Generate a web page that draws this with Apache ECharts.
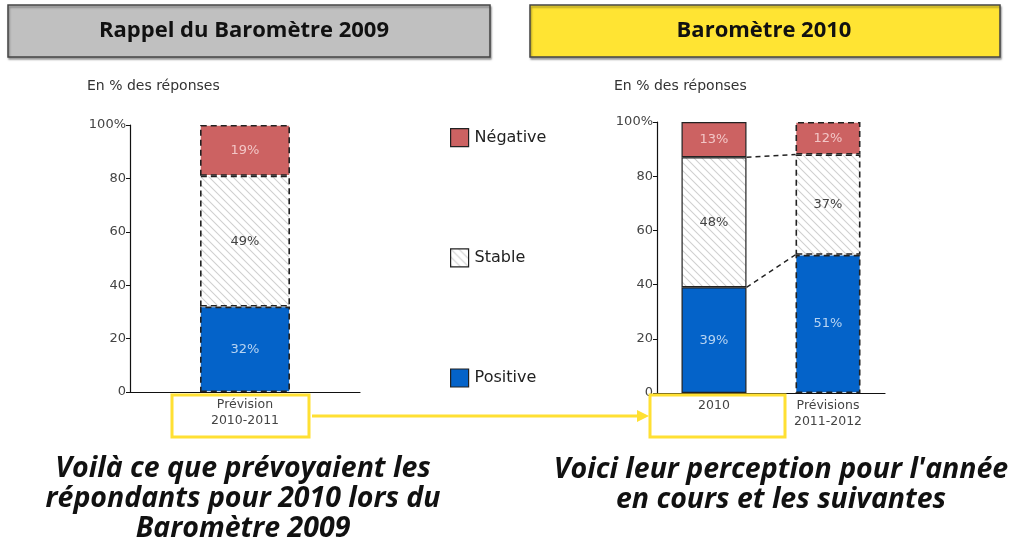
<!DOCTYPE html>
<html>
<head>
<meta charset="utf-8">
<script src="https://cdn.jsdelivr.net/npm/echarts@6/dist/echarts.min.js"></script>
<style>
html, body { margin: 0; padding: 0; background: #fff; }
#chart { width: 1023px; height: 545px; }
</style>
</head>
<body>
<div id="chart"></div>
<script>
var names = ['Négative', 'Stable', 'Positive'];
var cats2009 = ['Prévision\n2010-2011'];
var pos2009 = [32];
var stab2009 = [49];
var neg2009 = [19];
var cats2010 = ['2010', 'Prévisions\n2011-2012'];
var pos2010 = [39, 51];
var stab2010 = [48, 37];
var neg2010 = [13, 12];
var yTicks = [0, 20, 40, 60, 80, 100];

var red = '#CC6262';
var blue = '#0463C9';
var font = 'DejaVu Sans';
var narrow = '"Open Sans", sans-serif';

// hachures pour "Stable"
var cv = document.createElement('canvas');
cv.width = 8; cv.height = 8;
var cx = cv.getContext('2d');
cx.fillStyle = '#fff';
cx.fillRect(0, 0, 8, 8);
cx.strokeStyle = '#cfcfcf';
cx.lineWidth = 1.1;
[-8, 0, 8].forEach(function (o) {
    cx.beginPath();
    cx.moveTo(o - 1, -1);
    cx.lineTo(o + 9, 9);
    cx.stroke();
});
var hatch = {image: cv, repeat: 'repeat'};

var dashed = {borderColor: '#222', borderWidth: 1.6, borderType: [6, 4]};
var solid = {borderColor: '#222', borderWidth: 1.2, borderType: 'solid'};

function styled(vals, types) {
    return vals.map(function (v, i) {
        return {value: v, itemStyle: types[i] == 'solid' ? solid : dashed};
    });
}

function barSeries(name, vals, types, color, lblColor, idx, stack, bw) {
    return {
        name: name,
        type: 'bar',
        stack: stack,
        xAxisIndex: idx,
        yAxisIndex: idx,
        barWidth: bw,
        data: styled(vals, types),
        itemStyle: {color: color},
        label: {
            show: true,
            position: 'inside',
            formatter: '{c}%',
            color: lblColor,
            fontFamily: font,
            fontSize: 13
        }
    };
}

// lignes pointillées entre les deux barres 2010
var connData = [
    [0, pos2010[0] + stab2010[0], 1, pos2010[1] + stab2010[1]],
    [0, pos2010[0], 1, pos2010[1]]
];

function yAxis(idx) {
    return {
        type: 'value',
        gridIndex: idx,
        min: 0,
        max: 100,
        interval: 20,
        axisLine: {show: true, lineStyle: {color: '#111', width: 1.2}},
        axisTick: {show: true, length: 4, lineStyle: {color: '#111'}},
        splitLine: {show: false},
        axisLabel: {
            fontFamily: font,
            fontSize: 13,
            color: '#444',
            margin: 4,
            formatter: function (v) { return v == 100 ? '100%' : v; }
        }
    };
}

function xAxis(idx, cats) {
    return {
        type: 'category',
        gridIndex: idx,
        data: cats,
        axisLine: {show: true, lineStyle: {color: '#111', width: 1.2}},
        axisTick: {show: false},
        axisLabel: {fontFamily: font, fontSize: 12.5, color: '#444', lineHeight: 16, margin: 5}
    };
}

var chart = echarts.init(document.getElementById('chart'));
chart.setOption({
    animation: false,
    grid: [
        {left: 130, top: 125, width: 230, height: 267},
        {left: 657, top: 122, width: 228, height: 271}
    ],
    xAxis: [xAxis(0, cats2009), xAxis(1, cats2010)],
    yAxis: [yAxis(0), yAxis(1)],
    legend: {
        data: names,
        orient: 'vertical',
        left: 450,
        top: 128,
        padding: 0,
        itemWidth: 18,
        itemHeight: 18,
        itemGap: 101,
        icon: 'rect',
        itemStyle: {borderColor: '#222', borderWidth: 1.2, borderType: 'solid'},
        textStyle: {fontFamily: font, fontSize: 16, color: '#222', padding: [0, 0, 0, 1]}
    },
    series: [
        barSeries('Positive', pos2009, ['dashed'], blue, '#b8d4f2', 0, 'a', 90),
        barSeries('Stable', stab2009, ['dashed'], hatch, '#444', 0, 'a', 90),
        barSeries('Négative', neg2009, ['dashed'], red, '#f2c6c6', 0, 'a', 90),
        barSeries('Positive', pos2010, ['solid', 'dashed'], blue, '#b8d4f2', 1, 'b', 65),
        barSeries('Stable', stab2010, ['solid', 'dashed'], hatch, '#444', 1, 'b', 65),
        barSeries('Négative', neg2010, ['solid', 'dashed'], red, '#f2c6c6', 1, 'b', 65),
        {
            name: 'liens',
            type: 'custom',
            xAxisIndex: 1,
            yAxisIndex: 1,
            data: connData,
            encode: {x: [0, 2], y: [1, 3]},
            z: 5,
            renderItem: function (params, api) {
                var a = api.coord([api.value(0), api.value(1)]);
                var b = api.coord([api.value(2), api.value(3)]);
                return {
                    type: 'line',
                    shape: {x1: a[0] + 32.5, y1: a[1], x2: b[0] - 32.5, y2: b[1]},
                    style: {stroke: '#222', lineWidth: 1.4, lineDash: [5, 4]}
                };
            }
        }
    ],
    graphic: [
        {type: 'rect', shape: {x: 8, y: 5, width: 482, height: 52},
         style: {fill: '#C0C0C0', stroke: '#444', lineWidth: 1.5, shadowColor: 'rgba(0,0,0,0.35)', shadowOffsetX: 1, shadowOffsetY: 2, shadowBlur: 2}},
        {type: 'text', x: 244, y: 31,
         style: {text: 'Rappel du Baromètre 2009', fontFamily: narrow, fontWeight: 'bold', fontSize: 22, fill: '#111', align: 'center', verticalAlign: 'middle'}},
        {type: 'rect', shape: {x: 530, y: 5, width: 470, height: 52},
         style: {fill: '#FFE433', stroke: '#444', lineWidth: 1.5, shadowColor: 'rgba(0,0,0,0.35)', shadowOffsetX: 1, shadowOffsetY: 2, shadowBlur: 2}},
        {type: 'text', x: 764, y: 31,
         style: {text: 'Baromètre 2010', fontFamily: narrow, fontWeight: 'bold', fontSize: 22, fill: '#111', align: 'center', verticalAlign: 'middle'}},
        {type: 'text', x: 87, y: 86,
         style: {text: 'En % des réponses', fontFamily: font, fontSize: 14, fill: '#333', verticalAlign: 'middle'}},
        {type: 'text', x: 614, y: 86,
         style: {text: 'En % des réponses', fontFamily: font, fontSize: 14, fill: '#333', verticalAlign: 'middle'}},
        {type: 'rect', z: 10, shape: {x: 172, y: 395, width: 137, height: 42},
         style: {fill: 'none', stroke: '#FFE033', lineWidth: 3}},
        {type: 'rect', z: 10, shape: {x: 650, y: 395, width: 135, height: 42},
         style: {fill: 'none', stroke: '#FFE033', lineWidth: 3}},
        {type: 'line', z: 10, shape: {x1: 312, y1: 416, x2: 640, y2: 416},
         style: {stroke: '#FFE033', lineWidth: 3}},
        {type: 'polygon', z: 10, shape: {points: [[637, 410], [649, 416], [637, 422]]},
         style: {fill: '#FFE033'}},
        {type: 'text', x: 243, y: 499,
         style: {text: 'Voilà ce que prévoyaient les\nrépondants pour 2010 lors du\nBaromètre 2009', fontFamily: narrow, fontWeight: 'bold', fontStyle: 'italic', fontSize: 28.5, lineHeight: 30, fill: '#111', align: 'center', verticalAlign: 'middle'}},
        {type: 'text', x: 781, y: 485,
         style: {text: 'Voici leur perception pour l\'année\nen cours et les suivantes', fontFamily: narrow, fontWeight: 'bold', fontStyle: 'italic', fontSize: 28.5, lineHeight: 30, fill: '#111', align: 'center', verticalAlign: 'middle'}}
    ]
});
</script>
</body>
</html>
